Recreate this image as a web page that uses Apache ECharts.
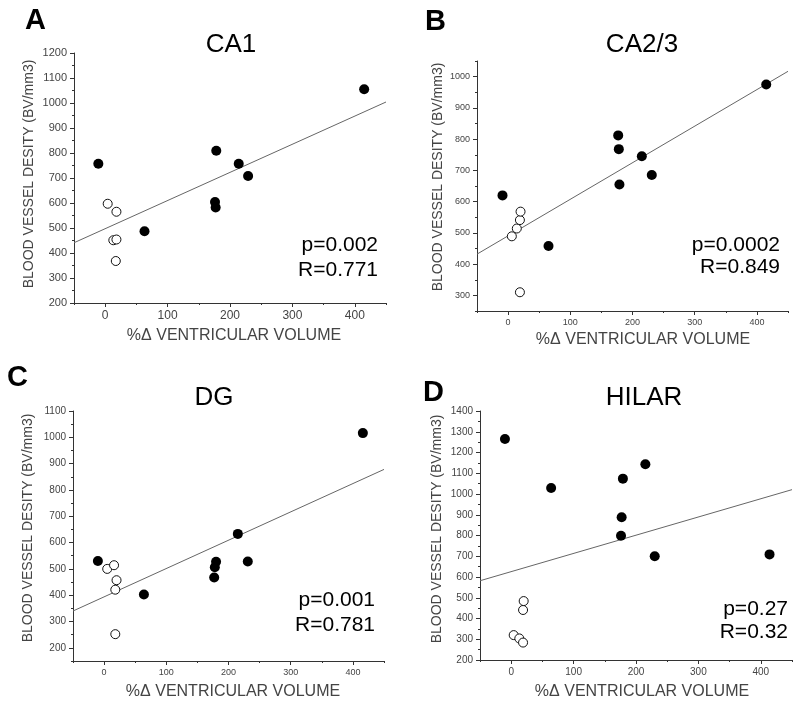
<!DOCTYPE html>
<html>
<head>
<meta charset="utf-8">
<script src="https://cdn.jsdelivr.net/npm/echarts@6/dist/echarts.min.js"></script>
<style>html,body{margin:0;padding:0;background:#fff;}#chart{width:800px;height:709px;}</style>
</head>
<body>
<div id="chart"></div>
<script>
// ---- data ----
const xMajor = [0, 100, 200, 300, 400];
const xMinor = [-50, 50, 150, 250, 350, 450];

const ca1Filled = [[-11, 757], [63, 487], [178, 809], [176, 604], [177, 582], [214, 757], [229, 708], [415, 1055]];
const ca1Open = [[4, 597], [18, 565], [13, 451], [18, 454], [17, 368]];
const ca1Fit = [[-50, 441], [450, 1004]];
const ca1YMajor = [200, 300, 400, 500, 600, 700, 800, 900, 1000, 1100, 1200];
const ca1YMinor = [250, 350, 450, 550, 650, 750, 850, 950, 1050, 1150];

const ca23Filled = [[-9, 620], [65, 458], [177, 812], [178, 768], [179, 655], [215, 745], [231, 685], [415, 975]];
const ca23Open = [[6, 489], [14, 514], [19, 541], [20, 568], [19, 310]];
const ca23Fit = [[-50, 432], [450, 1017]];
const ca23YMajor = [300, 400, 500, 600, 700, 800, 900, 1000];
const ca23YMinor = [250, 350, 450, 550, 650, 750, 850, 950, 1050];

const dgFilled = [[-10, 530], [64, 403], [177, 467], [178, 506], [180, 527], [215, 633], [231, 528], [416, 1016]];
const dgOpen = [[5, 500], [16, 514], [20, 457], [18, 421], [18, 252]];
const dgFit = [[-50, 340], [450, 878]];
const dgYMajor = [200, 300, 400, 500, 600, 700, 800, 900, 1000, 1100];
const dgYMinor = [150, 250, 350, 450, 550, 650, 750, 850, 950, 1050];

const hilarFilled = [[-10, 1265], [64, 1029], [215, 1143], [179, 1074], [177, 888], [176, 799], [230, 700], [414, 709]];
const hilarOpen = [[4, 320], [13, 304], [19, 284], [19, 441], [20, 484]];
const hilarFit = [[-50, 582], [450, 1021]];
const hilarYMajor = [200, 300, 400, 500, 600, 700, 800, 900, 1000, 1100, 1200, 1300, 1400];
const hilarYMinor = [250, 350, 450, 550, 650, 750, 850, 950, 1050, 1150, 1250, 1350];

const panelLetters = ['A', 'B', 'C', 'D'];
const panelTitles = ['CA1', 'CA2/3', 'DG', 'HILAR'];
const pTexts = ['p=0.002', 'p=0.0002', 'p=0.001', 'p=0.27'];
const rTexts = ['R=0.771', 'R=0.849', 'R=0.781', 'R=0.32'];
const xTitle = '%\u0394 VENTRICULAR VOLUME';
const yTitle = 'BLOOD VESSEL DESITY (BV/mm3)';

// ---- layout ----
const FONT = 'Liberation Sans, Arial, sans-serif';
const panels = [
  { grid: {left: 74, top: 53, width: 312, height: 250}, ymin: 200, ymax: 1200, yMajor: ca1YMajor, yMinor: ca1YMinor,
    filled: ca1Filled, open: ca1Open, fit: ca1Fit, yFs: 11, xFs: 12,
    letter: [25, 21], title: [231, 45], p: [378, 245], r: [378, 270], xt: [234, 336], yt: [29, 174] },
  { grid: {left: 477, top: 61, width: 311, height: 250}, ymin: 250, ymax: 1050, yMajor: ca23YMajor, yMinor: ca23YMinor,
    filled: ca23Filled, open: ca23Open, fit: ca23Fit, yFs: 9, xFs: 9,
    letter: [425, 22], title: [642, 45], p: [780, 245], r: [780, 267], xt: [643, 340], yt: [438, 177] },
  { grid: {left: 73, top: 411, width: 311, height: 250}, ymin: 150, ymax: 1100, yMajor: dgYMajor, yMinor: dgYMinor,
    filled: dgFilled, open: dgOpen, fit: dgFit, yFs: 10, xFs: 9,
    letter: [7, 378], title: [214, 398], p: [375, 600], r: [375, 625], xt: [233, 692], yt: [28, 528] },
  { grid: {left: 480, top: 411, width: 312, height: 249}, ymin: 200, ymax: 1400, yMajor: hilarYMajor, yMinor: hilarYMinor,
    filled: hilarFilled, open: hilarOpen, fit: hilarFit, yFs: 10, xFs: 10,
    letter: [423, 393], title: [644, 398], p: [788, 609], r: [788, 632], xt: [642, 692], yt: [437, 529] }
];

const AX = '#333';
const plain = v => String(v);
const grids = [], xAxes = [], yAxes = [], series = [], graphics = [];

panels.forEach((p, i) => {
  grids.push(Object.assign({containLabel: false}, p.grid));
  xAxes.push({
    type: 'value', gridIndex: i, min: -50, max: 450, position: 'bottom',
    axisLine: {show: true, onZero: false, lineStyle: {color: AX, width: 1}},
    axisTick: {show: true, customValues: xMajor, length: 4, lineStyle: {color: AX}},
    axisLabel: {show: true, customValues: xMajor, formatter: plain, fontSize: p.xFs, color: '#444', margin: 7, fontFamily: FONT},
    splitLine: {show: false}
  });
  xAxes.push({
    type: 'value', gridIndex: i, min: -50, max: 450, position: 'bottom', offset: 0,
    axisLine: {show: false, onZero: false},
    axisTick: {show: true, customValues: xMinor, length: 2, lineStyle: {color: AX}},
    axisLabel: {show: false}, splitLine: {show: false}
  });
  yAxes.push({
    type: 'value', gridIndex: i, min: p.ymin, max: p.ymax, position: 'left',
    axisLine: {show: true, onZero: false, lineStyle: {color: AX, width: 1}},
    axisTick: {show: true, customValues: p.yMajor, length: 4, lineStyle: {color: AX}},
    axisLabel: {show: true, customValues: p.yMajor, formatter: plain, fontSize: p.yFs, color: '#444', margin: 7, fontFamily: FONT},
    splitLine: {show: false}
  });
  yAxes.push({
    type: 'value', gridIndex: i, min: p.ymin, max: p.ymax, position: 'left', offset: 0,
    axisLine: {show: false, onZero: false},
    axisTick: {show: true, customValues: p.yMinor, length: 2, lineStyle: {color: AX}},
    axisLabel: {show: false}, splitLine: {show: false}
  });

  series.push({
    type: 'line', xAxisIndex: 2 * i, yAxisIndex: 2 * i, data: p.fit, symbol: 'none',
    lineStyle: {color: '#666', width: 1}, silent: true, z: 2
  });
  series.push({
    type: 'scatter', xAxisIndex: 2 * i, yAxisIndex: 2 * i, data: p.open, symbol: 'circle', symbolSize: 9,
    itemStyle: {color: '#fff', borderColor: '#111', borderWidth: 1, opacity: 1}, z: 3
  });
  series.push({
    type: 'scatter', xAxisIndex: 2 * i, yAxisIndex: 2 * i, data: p.filled, symbol: 'circle', symbolSize: 10,
    itemStyle: {color: '#000', opacity: 1}, z: 4
  });

  graphics.push({type: 'text', x: p.letter[0], y: p.letter[1],
    style: {text: panelLetters[i], font: 'bold 29px ' + FONT, fill: '#000', textAlign: 'left', textVerticalAlign: 'middle'}});
  graphics.push({type: 'text', x: p.title[0], y: p.title[1],
    style: {text: panelTitles[i], font: '26px ' + FONT, fill: '#000', textAlign: 'center', textVerticalAlign: 'middle'}});
  graphics.push({type: 'text', x: p.p[0], y: p.p[1],
    style: {text: pTexts[i], font: '21px ' + FONT, fill: '#000', textAlign: 'right', textVerticalAlign: 'middle'}});
  graphics.push({type: 'text', x: p.r[0], y: p.r[1],
    style: {text: rTexts[i], font: '21px ' + FONT, fill: '#000', textAlign: 'right', textVerticalAlign: 'middle'}});
  graphics.push({type: 'text', x: p.xt[0], y: p.xt[1],
    style: {text: xTitle, font: '16px ' + FONT, fill: '#444', textAlign: 'center', textVerticalAlign: 'middle'}});
  graphics.push({type: 'text', x: p.yt[0], y: p.yt[1], rotation: Math.PI / 2,
    style: {text: yTitle, font: '14px ' + FONT, fill: '#444', textAlign: 'center', textVerticalAlign: 'middle'}});
});

const chart = echarts.init(document.getElementById('chart'), null, {renderer: 'canvas'});
chart.setOption({
  animation: false,
  backgroundColor: '#fff',
  grid: grids,
  xAxis: xAxes,
  yAxis: yAxes,
  series: series,
  graphic: graphics
});
</script>
</body>
</html>
